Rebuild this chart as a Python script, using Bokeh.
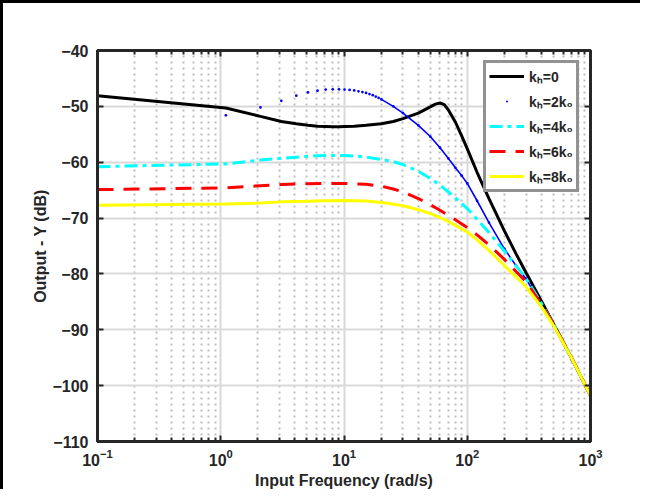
from bokeh.plotting import figure
from bokeh.models import (LogAxis, LinearAxis, FixedTicker, Legend, LegendItem,
                          InlineStyleSheet)
from bokeh.embed import file_html
from bokeh.resources import INLINE

# ---------------- data ----------------
x_ticks = [0.1, 1, 10, 100, 1000]
y_ticks = [-110, -100, -90, -80, -70, -60, -50, -40]

f_black = [0.1, 1.1, 2.1, 3.1, 4.1, 5.1, 6.1, 7.1, 8.1, 9.1, 10.1, 12.1, 15.1,
           20.1, 25.1, 30.1, 40.1, 50.1, 55.1, 60.1, 65.1, 70.1, 80.1, 90.1,
           100.1, 120.1, 150.1, 200.1, 250.1, 300.1, 400.1, 500.1, 700.1, 999.1]
y_black = [-48.1, -50.3, -51.8, -52.7, -53.1, -53.4, -53.55, -53.6, -53.65, -53.65,
           -53.6, -53.55, -53.4, -53.1, -52.7, -52.2, -51.2, -50.1, -49.6, -49.4,
           -49.7, -50.6, -52.8, -55.3, -57.6, -61.8, -66.5, -72.3, -76.5, -79.8,
           -84.9, -88.9, -95.0, -101.8]

f_blue = [0.1, 1.1, 2.1, 3.1, 4.1, 5.1, 6.1, 7.1, 8.1, 9.1, 10.1, 11.1, 12.1, 13.1,
          14.1, 15.1, 16.1, 17.1, 18.1, 19.1, 20.1, 25.1, 30.1, 40.1, 50.1, 60.1,
          70.1, 80.1, 90.1, 100.1, 120.1, 150.1, 200.1, 250.1, 300.1, 400.1, 500.1,
          700.1, 999.1]
y_blue = [-52.5, -51.6, -50.2, -49.0, -48.1, -47.5, -47.2, -47.0, -46.95, -46.95,
          -47.0, -47.05, -47.15, -47.3, -47.45, -47.6, -47.8, -48.0, -48.25, -48.5,
          -48.75, -50.0, -51.2, -53.4, -55.4, -57.4, -59.3, -61.0, -62.4, -63.8,
          -66.9, -70.8, -75.5, -78.6, -80.9, -85.6, -89.3, -95.3, -101.9]

f_cyan = [0.1, 1.1, 2.1, 3.1, 4.1, 5.1, 6.1, 7.1, 8.1, 10.1, 12.1, 15.1, 20.1, 25.1,
          30.1, 40.1, 50.1, 60.1, 70.1, 80.1, 90.1, 100.1, 120.1, 150.1, 200.1,
          250.1, 300.1, 400.1, 500.1, 700.1, 999.1]
y_cyan = [-60.8, -60.3, -59.6, -59.3, -59.1, -58.95, -58.85, -58.8, -58.8, -58.8,
          -58.9, -59.1, -59.5, -59.9, -60.4, -61.6, -62.9, -64.1, -65.3, -66.4,
          -67.4, -68.3, -70.2, -72.6, -75.9, -78.6, -80.8, -85.3, -89.0, -95.0, -101.8]

f_red = [0.1, 1.1, 2.1, 3.1, 5.1, 7.1, 10.1, 15.1, 20.1, 25.1, 30.1, 40.1, 50.1,
         60.1, 70.1, 80.1, 100.1, 120.1, 150.1, 200.1, 250.1, 300.1, 400.1, 500.1,
         700.1, 999.1]
y_red = [-64.9, -64.6, -64.2, -64.0, -63.85, -63.8, -63.8, -63.95, -64.3, -64.8,
         -65.3, -66.5, -67.6, -68.6, -69.5, -70.3, -71.7, -73.0, -74.8, -77.4,
         -79.6, -81.4, -85.5, -89.0, -94.9, -101.8]

f_yellow = [0.1, 1.1, 2.1, 3.1, 5.1, 7.1, 10.1, 15.1, 20.1, 25.1, 30.1, 40.1, 50.1,
            60.1, 70.1, 80.1, 100.1, 120.1, 150.1, 200.1, 250.1, 300.1, 400.1, 500.1,
            700.1, 999.1]
y_yellow = [-67.7, -67.5, -67.3, -67.1, -67.0, -66.9, -66.85, -66.95, -67.2, -67.5,
            -67.8, -68.5, -69.2, -69.9, -70.6, -71.3, -72.5, -73.9, -75.8, -78.5,
            -80.6, -82.3, -85.9, -89.2, -95.0, -101.8]

labels = ["k\u2095=0", "k\u2095=2k\u2080", "k\u2095=4k\u2080", "k\u2095=6k\u2080", "k\u2095=8k\u2080"]

# ---------------- figure ----------------
FONT = "Liberation Sans"
DARK = "#262626"

p = figure(width=640, height=489, x_axis_type="log", x_range=(0.1, 1000),
           y_range=(-110, -40), output_backend="svg", toolbar_location=None,
           min_border_left=94, min_border_top=47, min_border_right=53,
           min_border_bottom=51)
p.stylesheets = [InlineStyleSheet(css=":host { border-left: 3px solid black; "
                                      "border-top: 3px solid black; }")]

p.outline_line_color = DARK
p.outline_line_width = 3
p.outline_line_alpha = 1.0

minor_x = [m * 10.0 ** e for e in range(-1, 3) for m in range(2, 10)]

bottom = p.below[0]
left = p.left[0]
bottom.ticker = FixedTicker(ticks=x_ticks, minor_ticks=minor_x)
left.ticker = FixedTicker(ticks=y_ticks)

# grids
p.xgrid.grid_line_color = "#d9d9d9"
p.xgrid.grid_line_width = 2
p.xgrid.minor_grid_line_color = "#bdbdbd"
p.xgrid.minor_grid_line_width = 2
p.xgrid.minor_grid_line_dash = "2 4"
p.ygrid.grid_line_color = "#d9d9d9"
p.ygrid.grid_line_width = 2

# extra axes (box)
top = LogAxis(ticker=FixedTicker(ticks=x_ticks, minor_ticks=minor_x))
right = LinearAxis(ticker=FixedTicker(ticks=y_ticks))
p.add_layout(top, "above")
p.add_layout(right, "right")

for ax in [bottom, left, top, right]:
    ax.axis_line_color = DARK
    ax.axis_line_width = 3
    ax.major_tick_line_color = DARK
    ax.major_tick_line_width = 2
    ax.minor_tick_line_color = DARK
    ax.minor_tick_line_width = 2
    ax.major_tick_in = 6
    ax.major_tick_out = 0
    ax.minor_tick_in = 4
    ax.minor_tick_out = 0
    ax.major_label_text_font = FONT
    ax.major_label_text_font_style = "bold"
    ax.major_label_text_font_size = "16px"
    ax.major_label_text_color = DARK

for ax in [top, right]:
    ax.major_label_text_alpha = 0
    ax.major_label_text_font_size = "1px"
    ax.major_label_standoff = 0

bottom.major_label_standoff = 7
left.major_label_standoff = 9
bottom.axis_label = "Input Frequency (rad/s)"
left.axis_label = "Output - Y (dB)"
for ax in [bottom, left]:
    ax.axis_label_text_font = FONT
    ax.axis_label_text_font_style = "bold"
    ax.axis_label_text_font_size = "16px"
    ax.axis_label_text_color = DARK
bottom.axis_label_standoff = 3
left.axis_label_standoff = 0

# ---------------- series ----------------
r0 = p.line(f_black, y_black, line_color="black", line_width=3)
p.line(f_blue[20:], y_blue[20:], line_color="blue", line_width=1.6)
r1 = p.scatter(f_blue, y_blue, size=11, marker="dot", fill_color="blue",
               line_color="blue")
r2 = p.line(f_cyan, y_cyan, line_color="cyan", line_width=3, line_dash="13 5 4 5")
r3 = p.line(f_red, y_red, line_color="red", line_width=3, line_dash="16 10")
r4 = p.line(f_yellow, y_yellow, line_color="yellow", line_width=3)

legend = Legend(items=[LegendItem(label=labels[0], renderers=[r0]),
                       LegendItem(label=labels[1], renderers=[r1]),
                       LegendItem(label=labels[2], renderers=[r2]),
                       LegendItem(label=labels[3], renderers=[r3]),
                       LegendItem(label=labels[4], renderers=[r4])],
                location=(386, 249))
legend.margin = 0
legend.padding = 3
legend.spacing = 5
legend.glyph_width = 35
legend.glyph_height = 20
legend.label_standoff = 5
legend.label_text_font = FONT
legend.label_text_font_style = "bold"
legend.label_text_font_size = "14px"
legend.label_text_color = DARK
legend.border_line_color = DARK
legend.border_line_width = 3
legend.background_fill_alpha = 1
p.add_layout(legend)

open("out.html", "w").write(file_html(p, INLINE))
